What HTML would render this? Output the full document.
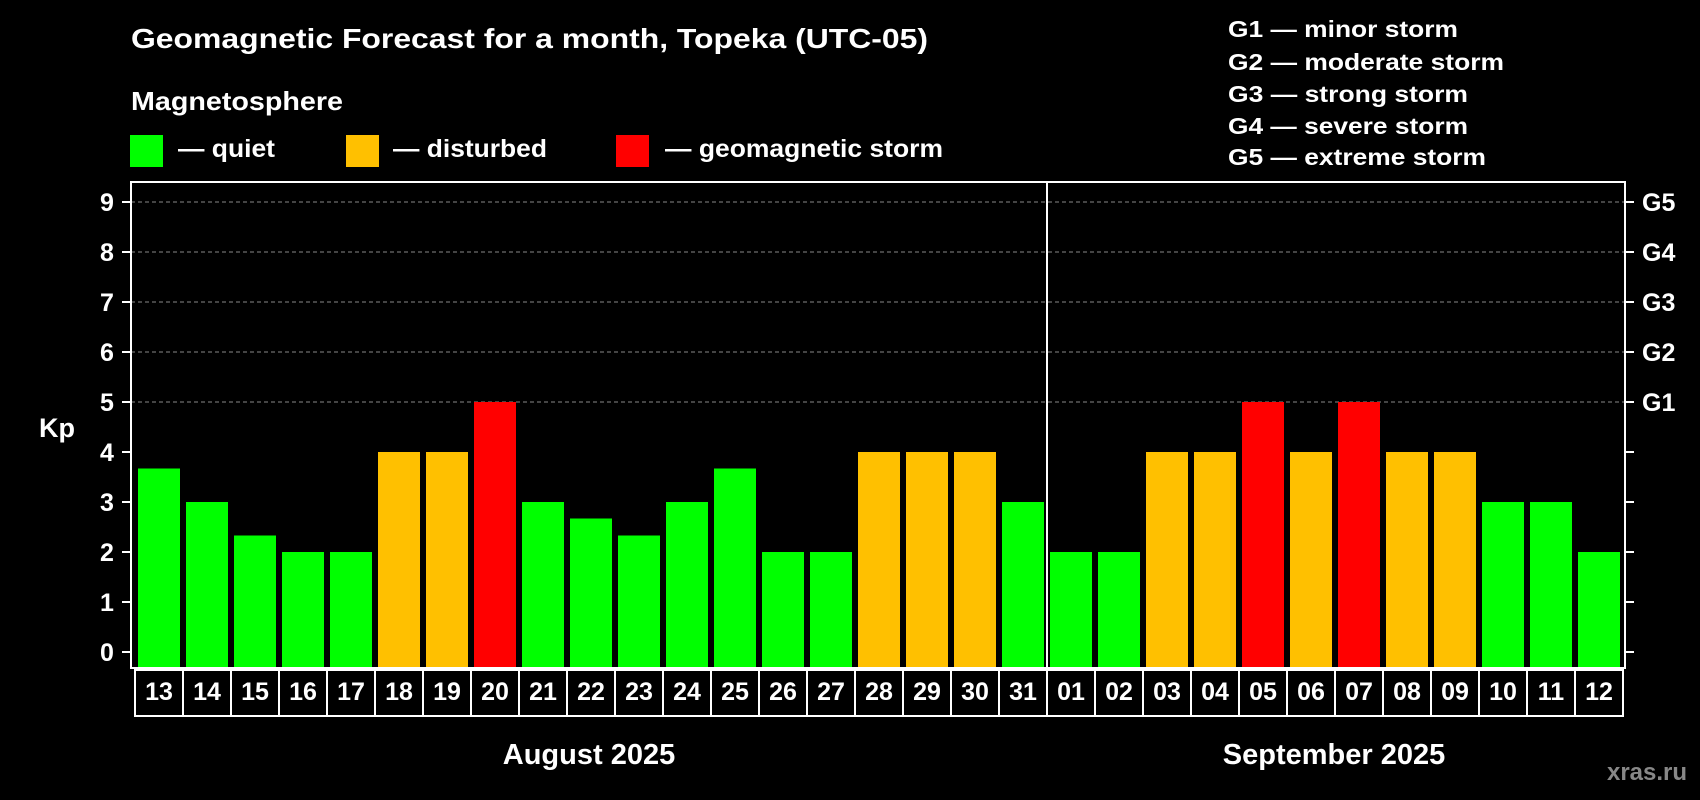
<!DOCTYPE html>
<html><head><meta charset="utf-8"><style>
html,body{margin:0;padding:0;background:#000;width:1700px;height:800px;overflow:hidden}
svg{display:block}
text{font-family:"Liberation Sans",sans-serif;font-weight:bold;fill:#fff}
</style></head><body>
<svg id="chart" width="1700" height="800">
<text x="131" y="48" font-size="28" textLength="797" lengthAdjust="spacingAndGlyphs">Geomagnetic Forecast for a month, Topeka (UTC-05)</text>
<text x="131" y="110" font-size="26" textLength="212" lengthAdjust="spacingAndGlyphs">Magnetosphere</text>
<g><rect x="130" y="135" width="33" height="32" fill="#00ff00"/><text x="178" y="157" font-size="25" textLength="97" lengthAdjust="spacingAndGlyphs">— quiet</text></g>
<g><rect x="346" y="135" width="33" height="32" fill="#ffc000"/><text x="393" y="157" font-size="25" textLength="154" lengthAdjust="spacingAndGlyphs">— disturbed</text></g>
<g><rect x="616" y="135" width="33" height="32" fill="#ff0000"/><text x="665" y="157" font-size="25" textLength="278" lengthAdjust="spacingAndGlyphs">— geomagnetic storm</text></g>
<g font-size="23">
<text x="1228" y="37" textLength="230" lengthAdjust="spacingAndGlyphs">G1 — minor storm</text>
<text x="1228" y="70" textLength="276" lengthAdjust="spacingAndGlyphs">G2 — moderate storm</text>
<text x="1228" y="102" textLength="240" lengthAdjust="spacingAndGlyphs">G3 — strong storm</text>
<text x="1228" y="134" textLength="240" lengthAdjust="spacingAndGlyphs">G4 — severe storm</text>
<text x="1228" y="165" textLength="258" lengthAdjust="spacingAndGlyphs">G5 — extreme storm</text>
</g>
<text x="57" y="437" font-size="27" text-anchor="middle">Kp</text>
<text x="589" y="764" font-size="29" text-anchor="middle">August 2025</text>
<text x="1334" y="764" font-size="29" text-anchor="middle">September 2025</text>
<text x="1647" y="780" font-size="24" text-anchor="middle" style="fill:#888">xras.ru</text>
<g id="grid"></g><g id="bars"></g><g id="axes"></g>
</svg>
<script>
const days=["13","14","15","16","17","18","19","20","21","22","23","24","25","26","27","28","29","30","31","01","02","03","04","05","06","07","08","09","10","11","12"];
const kpValues=[3.67,3,2.33,2,2,4,4,5,3,2.67,2.33,3,3.67,2,2,4,4,4,3,2,2,4,4,5,4,5,4,4,3,3,2];
const yTicks=[0,1,2,3,4,5,6,7,8,9];
const gLabels=["G1","G2","G3","G4","G5"];
const NS="http://www.w3.org/2000/svg";
const L=131,R=1625,T=182,B=668,X0=138,STEP=48,BW=42;
const y=v=>652-v*50;
const xb=i=>X0+i*STEP;
function mk(tag,attrs,parent){const e=document.createElementNS(NS,tag);for(const k in attrs)e.setAttribute(k,attrs[k]);parent.appendChild(e);return e;}
const grid=document.getElementById('grid'),bars=document.getElementById('bars'),axes=document.getElementById('axes');
yTicks.forEach(v=>{
  if(v>=5){const g=mk('line',{x1:L,x2:R,y1:y(v),y2:y(v),stroke:'#888','stroke-width':1,'stroke-dasharray':'4,3'},grid);
  
  }
  const t1=mk('line',{x1:122,x2:L,y1:y(v),y2:y(v),stroke:'#fff','stroke-width':2},axes);
  
  
  const t2=mk('line',{x1:R,x2:1634,y1:y(v),y2:y(v),stroke:'#fff','stroke-width':2},axes);
  
  
  const lb=mk('text',{x:107,y:y(v)+9,'font-size':25,'text-anchor':'middle'},axes);lb.textContent=v;
  
  
  if(v>=5){const gl=mk('text',{x:1642,y:y(v)+9,'font-size':25},axes);gl.textContent=gLabels[v-5];
  
  }
});
kpValues.forEach((v,i)=>{
  const c=v>=5?'#ff0000':(v>=4?'#ffc000':'#00ff00');
  const r=mk('rect',{x:xb(i),y:y(v),width:BW,height:B-y(v),fill:c},bars);
  
  
  const cell=mk('rect',{x:135+i*STEP,y:670,width:STEP,height:46,fill:'none',stroke:'#fff','stroke-width':2},axes);
  
  
  const t=mk('text',{x:135+i*STEP+STEP/2,y:700,'font-size':25,'text-anchor':'middle'},axes);t.textContent=days[i];
  
  
});
const fr=mk('rect',{x:L,y:T,width:R-L,height:B-T,fill:'none',stroke:'#fff','stroke-width':2},axes);


const sep=days.indexOf("01");
const dv=mk('line',{x1:xb(sep)-3,x2:xb(sep)-3,y1:T,y2:716,stroke:'#fff','stroke-width':2},axes);


</script>
</body></html>
